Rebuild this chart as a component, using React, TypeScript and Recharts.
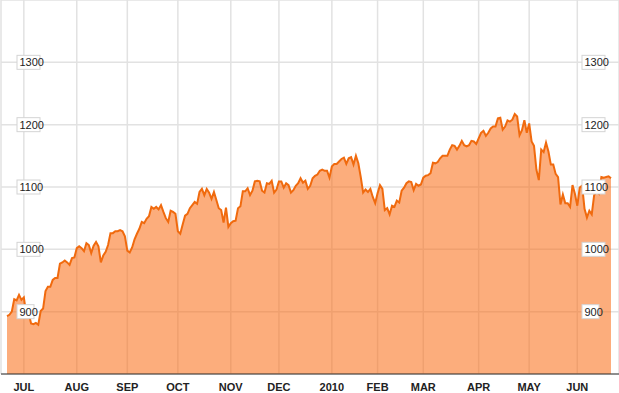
import type { ReactElement } from 'react';
import { Area, AreaChart, CartesianGrid, XAxis, YAxis } from 'recharts';

// One trading year of closes.
const months = [
  { key: '2009-06', label: '', closes: [893, 895, 900, 920, 918, 927, 919] },
  {
    key: '2009-07',
    label: 'JUL',
    closes: [923, 896, 898, 881, 880, 882, 879, 901, 905, 933, 940, 940, 951, 954, 954, 977, 979, 982, 979, 975, 986, 987],
  },
  {
    key: '2009-08',
    label: 'AUG',
    closes: [1002, 1005, 1002, 997, 1010, 1007, 994, 1006, 1012, 1005, 979, 990, 996, 1007, 1026, 1026, 1029, 1029, 1031, 1029, 1021],
  },
  {
    key: '2009-09',
    label: 'SEP',
    closes: [998, 995, 1003, 1016, 1025, 1033, 1044, 1042, 1049, 1053, 1068, 1065, 1068, 1064, 1071, 1060, 1050, 1044, 1062, 1060, 1057],
  },
  {
    key: '2009-10',
    label: 'OCT',
    closes: [1029, 1025, 1040, 1054, 1057, 1066, 1071, 1076, 1073, 1092, 1097, 1087, 1097, 1091, 1081, 1092, 1079, 1066, 1063, 1043, 1067, 1036],
  },
  {
    key: '2009-11',
    label: 'NOV',
    closes: [1042, 1045, 1046, 1066, 1069, 1093, 1093, 1098, 1087, 1094, 1109, 1110, 1109, 1094, 1091, 1106, 1105, 1110, 1091, 1096],
  },
  {
    key: '2009-12',
    label: 'DEC',
    closes: [1109, 1109, 1099, 1106, 1103, 1091, 1095, 1102, 1106, 1114, 1107, 1110, 1097, 1102, 1114, 1118, 1120, 1126, 1128, 1126, 1126, 1115],
  },
  {
    key: '2010-01',
    label: '2010',
    closes: [1133, 1137, 1137, 1141, 1145, 1147, 1137, 1146, 1148, 1136, 1150, 1138, 1116, 1091, 1096, 1092, 1097, 1084, 1074],
  },
  {
    key: '2010-02',
    label: 'FEB',
    closes: [1090, 1103, 1097, 1063, 1066, 1056, 1070, 1068, 1078, 1075, 1094, 1099, 1106, 1109, 1108, 1095, 1105, 1102, 1104],
  },
  {
    key: '2010-03',
    label: 'MAR',
    closes: [1115, 1118, 1119, 1122, 1139, 1138, 1140, 1146, 1150, 1150, 1150, 1160, 1167, 1166, 1160, 1166, 1174, 1167, 1165, 1167, 1174, 1173, 1169],
  },
  {
    key: '2010-04',
    label: 'APR',
    closes: [1178, 1187, 1190, 1182, 1187, 1194, 1197, 1197, 1210, 1211, 1192, 1197, 1207, 1205, 1208, 1217, 1213, 1183, 1191, 1207, 1187],
  },
  {
    key: '2010-05',
    label: 'MAY',
    closes: [1202, 1173, 1166, 1128, 1111, 1160, 1156, 1171, 1157, 1136, 1136, 1121, 1116, 1072, 1088, 1074, 1074, 1068, 1103, 1089],
  },
  {
    key: '2010-06',
    label: 'JUN',
    closes: [1070, 1099, 1102, 1065, 1051, 1062, 1056, 1087, 1092, 1089, 1116, 1115, 1116, 1117, 1114],
  },
];

const priceTicks = [900, 1000, 1100, 1200, 1300];

const data = months.flatMap((m) =>
  m.closes.map((close, i) => ({ d: `${m.key}-${i}`, close })),
);
const monthTicks = months.filter((m) => m.label).map((m) => `${m.key}-0`);
const labelFor: Record<string, string> = Object.fromEntries(
  months.map((m) => [`${m.key}-0`, m.label]),
);

const font = 'Arial, "Liberation Sans", sans-serif';

// Boxed price labels, one set near each edge of the plot.
function renderPriceTick(props: any): ReactElement {
  const { y, payload } = props;
  const text = String(payload.value);
  const w = text.length > 3 ? 23 : 17;
  const box = (x: number) => (
    <g>
      <rect x={x} y={y - 7} width={w} height={14} fill="#fff" stroke="#d4d4d4" />
      <text x={x + 2.5} y={y + 4} fontSize={11} fontFamily={font} fill="#222">
        {text}
      </text>
    </g>
  );
  return (
    <g>
      {box(17)}
      {box(582)}
    </g>
  );
}

export default function App(): ReactElement {
  return (
    <div style={{ position: 'absolute', left: 0, top: 0, background: '#fff' }}>
      <AreaChart
        width={619}
        height={393}
        data={data}
        margin={{ top: 0, right: 0, bottom: 0, left: 0 }}
      >
        <CartesianGrid stroke="#e2e2e2" strokeWidth={1.5} />
        <Area
          type="linear"
          dataKey="close"
          baseValue={800}
          stroke="#f06a0e"
          strokeWidth={2}
          fill="#fa6a11"
          fillOpacity={0.55}
          isAnimationActive={false}
          dot={false}
          activeDot={false}
        />
        <XAxis
          dataKey="d"
          ticks={monthTicks}
          interval={0}
          padding={{ left: 6, right: 8 }}
          height={19}
          tickLine={false}
          axisLine={{ stroke: '#333', strokeWidth: 1 }}
          tickFormatter={(v: string) => labelFor[v] ?? ''}
          tick={{ fontSize: 11, fontWeight: 'bold', fontFamily: font, fill: '#222' }}
          tickMargin={3}
        />
        <YAxis
          domain={[800, 1400]}
          ticks={priceTicks}
          width={1}
          axisLine={false}
          tickLine={false}
          tick={renderPriceTick}
        />
      </AreaChart>
    </div>
  );
}
